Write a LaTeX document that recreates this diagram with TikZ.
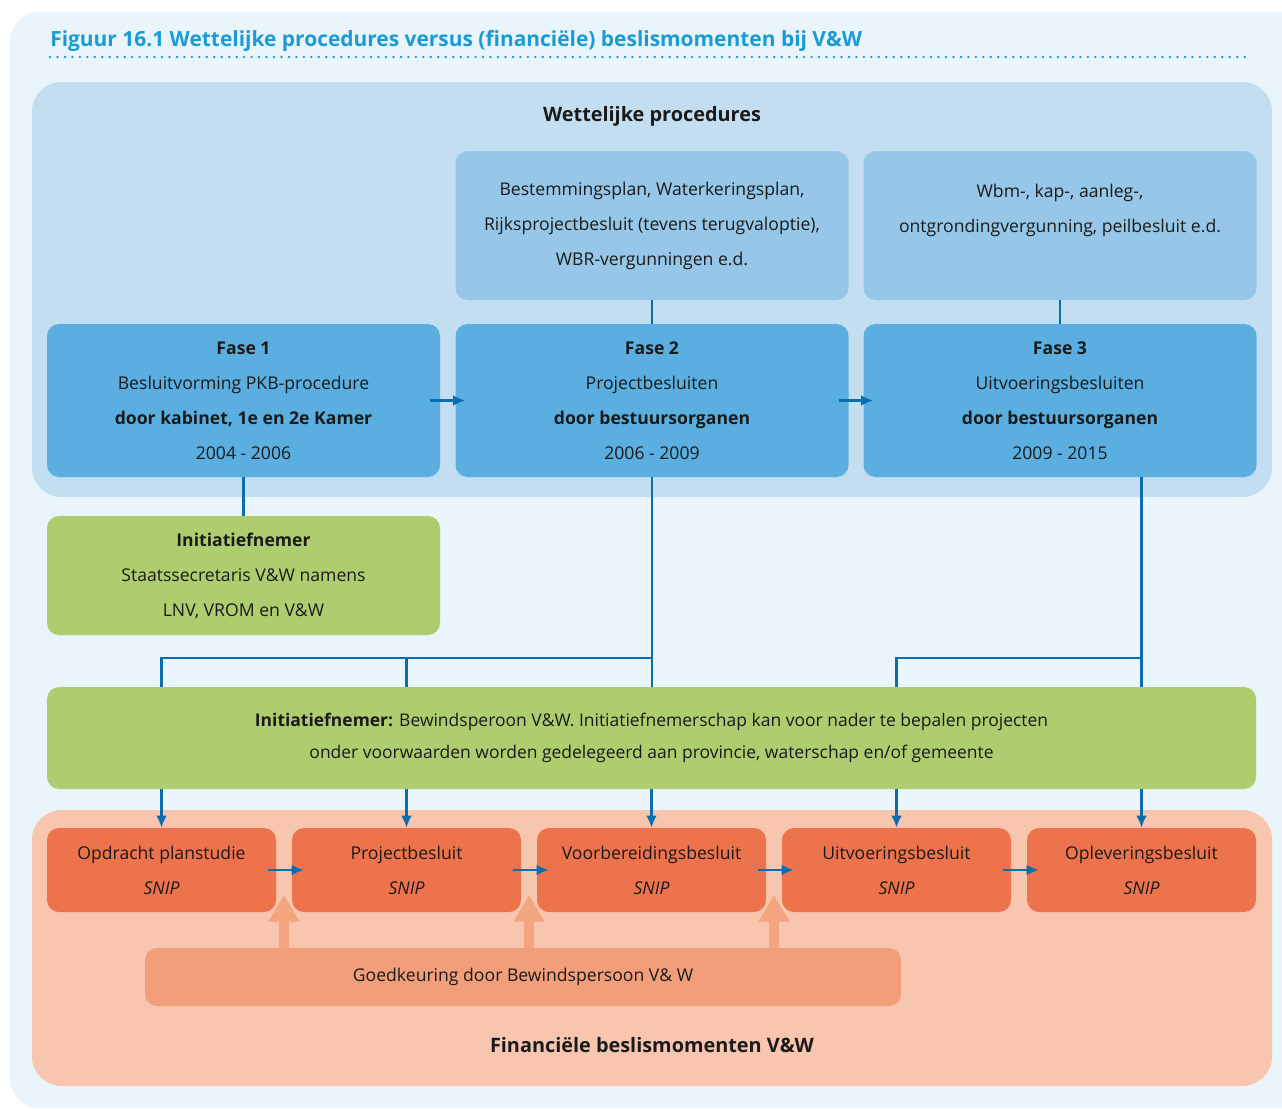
\documentclass[tikz,border=0pt]{standalone}
\usepackage{fontspec}
\setmainfont{Open Sans}
\usepackage{tikz}
\usetikzlibrary{arrows,arrows.meta,calc}

\definecolor{achter}{HTML}{EAF4FB}
\definecolor{titel}{HTML}{1A9BD7}
\definecolor{wetpaneel}{HTML}{C3DEF0}
\definecolor{lichtblauw}{HTML}{96C7E8}
\definecolor{fase}{HTML}{5AAFE0}
\definecolor{groen}{HTML}{AECD6E}
\definecolor{finpaneel}{HTML}{F8C6AE}
\definecolor{snip}{HTML}{EC734C}
\definecolor{goedk}{HTML}{F29E7B}
\definecolor{oppijl}{HTML}{F4A47F}
\definecolor{donker}{HTML}{0A6DB0}
\definecolor{tekst}{HTML}{1A1A1A}

\newlength\pxl
\setlength\pxl{0.75pt}

\begin{document}
\begin{tikzpicture}[x=0.75pt,y=-0.75pt,
  every node/.style={font=\fontsize{13.2}{26.25}\selectfont, align=center, text=tekst, inner sep=0pt},
  paneel/.style={rounded corners=22pt},
  vak/.style={rounded corners=9pt, minimum width=393\pxl, minimum height=153\pxl},
  snipvak/.style={rounded corners=9pt, fill=snip, minimum width=229\pxl, minimum height=84\pxl},
  lijn/.style={draw=donker, line width=1.8pt},
  pijl/.style={lijn, -{Latex[length=9pt,width=8pt]}},
  dik/.style={draw=oppijl, line width=7pt, -{Triangle[width=22pt,length=20pt]}}]

\useasboundingbox (0,0) rectangle (1282,1110);
\fill[achter, rounded corners=22pt] (10,12) rectangle (1320,1108);

% titel
\node[anchor=base west, font=\fontsize{15.7}{18}\selectfont\bfseries, text=titel] (kop) at (50,46)
  {Figuur 16.1 Wettelijke procedures versus (financiële) beslismomenten bij V\&W};
\draw[titel, line width=2pt, line cap=round, dash pattern=on 0pt off 5.6pt] (50,57) -- (1252,57);

% panelen
\node[paneel, fill=wetpaneel, minimum width=1240\pxl, minimum height=415\pxl] (wet) at (652,289.5) {};
\node[paneel, fill=finpaneel, minimum width=1240\pxl, minimum height=276\pxl] (fin) at (652,948) {};
\node[font=\fontsize{14.9}{17}\selectfont\bfseries] (wetkop) at (652,116) {Wettelijke procedures};
\node[font=\fontsize{14.9}{17}\selectfont\bfseries] (finkop) at (652,1045) {Financiële beslismomenten V\&W};

% wettelijke procedures
\node[vak, fill=lichtblauw, minimum height=149\pxl] (top2) at (652,225.5)
  {Bestemmingsplan, Waterkeringsplan,\\ Rijksprojectbesluit (tevens terugvaloptie),\\ WBR-vergunningen e.d.};
\node[vak, fill=lichtblauw, minimum height=149\pxl] (top3) at (1060,225.5)
  {Wbm-, kap-, aanleg-,\\ ontgrondingvergunning, peilbesluit e.d.\\ \mbox{}};

\node[vak, fill=fase] (fase1) at (243.5,400.5)
  {\textbf{Fase 1}\\ Besluitvorming PKB-procedure\\ \textbf{door kabinet, 1e en 2e Kamer}\\ 2004 - 2006};
\node[vak, fill=fase] (fase2) at (652,400.5)
  {\textbf{Fase 2}\\ Projectbesluiten\\ \textbf{door bestuursorganen}\\ 2006 - 2009};
\node[vak, fill=fase] (fase3) at (1060,400.5)
  {\textbf{Fase 3}\\ Uitvoeringsbesluiten\\ \textbf{door bestuursorganen}\\ 2009 - 2015};

\node[vak, fill=groen, minimum height=119\pxl] (ini1) at (243.5,575.5)
  {\textbf{Initiatiefnemer}\\ Staatssecretaris V\&W namens\\ LNV, VROM en V\&W};
\node[vak, fill=groen, minimum width=1209\pxl, minimum height=102\pxl, font=\fontsize{13.1}{24}\selectfont] (ini2) at (651.5,738)
  {\textbf{Initiatiefnemer:} Bewindsperoon V\&W. Initiatiefnemerschap kan voor nader te bepalen projecten\\
   onder voorwaarden worden gedelegeerd aan provincie, waterschap en/of gemeente};

% financiele beslismomenten
\node[snipvak] (snip1) at (161.5,870) {Opdracht planstudie\\ \textit{SNIP}};
\node[snipvak] (snip2) at (406.5,870) {Projectbesluit\\ \textit{SNIP}};
\node[snipvak] (snip3) at (651.5,870) {Voorbereidingsbesluit\\ \textit{SNIP}};
\node[snipvak] (snip4) at (896.5,870) {Uitvoeringsbesluit\\ \textit{SNIP}};
\node[snipvak] (snip5) at (1141.5,870) {Opleveringsbesluit\\ \textit{SNIP}};

\node[rounded corners=9pt, fill=goedk, minimum width=756\pxl, minimum height=58\pxl] (goed) at (523,977)
  {Goedkeuring door Bewindspersoon V\& W};

% verbindingen
\coordinate (hub) at (0,658);
\draw[lijn] (top2) -- (fase2);
\draw[lijn] (top3) -- (fase3);
\draw[lijn] (fase1) -- (ini1);
\draw[pijl, shorten <=-7.5pt, shorten >=-7.5pt] (fase1.east) -- (fase2.west);
\draw[pijl, shorten <=-7.5pt, shorten >=-7.5pt] (fase2.east) -- (fase3.west);

\draw[lijn] (fase2.south) -- (fase2.south |- ini2.north);
\draw[lijn] (fase2.south |- hub) -| (snip1 |- ini2.north);
\draw[lijn] (snip2 |- hub) -- (snip2 |- ini2.north);
\draw[lijn] (fase3.south -| snip5) -- (snip5 |- ini2.north);
\draw[lijn] (snip5 |- hub) -| (snip4 |- ini2.north);

\foreach \i in {1,...,5}
  \draw[pijl] (snip\i |- ini2.south) -- (snip\i.north);

\foreach \i/\j in {1/2,2/3,3/4,4/5}
  \draw[pijl, shorten <=-6pt, shorten >=-9pt] (snip\i.east) -- (snip\j.west);

\foreach \i/\j in {1/2,2/3,3/4} {
  \coordinate (op\i) at ($(snip\i.east)!0.5!(snip\j.west) + (0,25)$);
  \draw[dik] (op\i |- goed.north) -- (op\i);
}
\end{tikzpicture}
\end{document}
